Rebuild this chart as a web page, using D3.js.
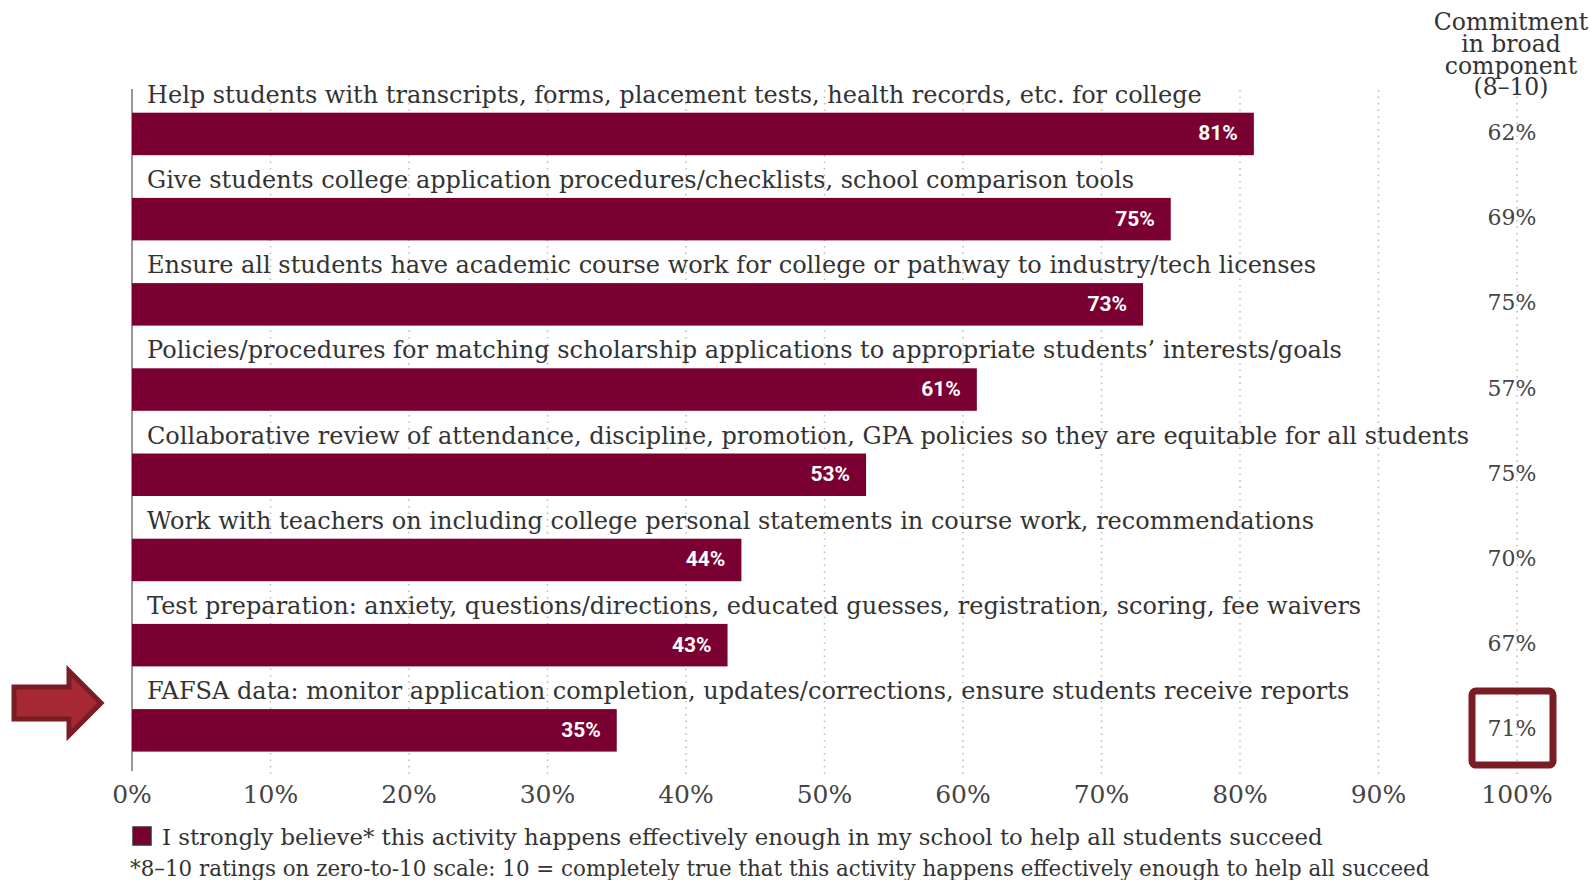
<!DOCTYPE html>
<html lang="en">
	<head>
		<meta charset="utf-8">
		<title>College readiness activities</title>
		<script src="https://d3js.org/d3.v7.min.js" charset="utf-8"></script>
		<style type="text/css">
			body { margin: 0; background: #fff; }
			svg { display: block; }
			.slab { font-family: "DejaVu Serif", "Liberation Serif", serif; fill: #333; }
			.inbar { font-family: "Liberation Sans Narrow", "Roboto", sans-serif; font-weight: bold; fill: #fff; }
		</style>
	</head>
	<body>
		<div id="main"></div>

		<script type="text/javascript">

			var categories = [
				"Help students with transcripts, forms, placement tests, health records, etc. for college",
				"Give students college application procedures/checklists, school comparison tools",
				"Ensure all students have academic course work for college or pathway to industry/tech licenses",
				"Policies/procedures for matching scholarship applications to appropriate students\u2019 interests/goals",
				"Collaborative review of attendance, discipline, promotion, GPA policies so they are equitable for all students",
				"Work with teachers on including college personal statements in course work, recommendations",
				"Test preparation: anxiety, questions/directions, educated guesses, registration, scoring, fee waivers",
				"FAFSA data: monitor application completion, updates/corrections, ensure students receive reports"
			];
			var believe = [81, 75, 73, 61, 53, 44, 43, 35];
			var commitment = [62, 69, 75, 57, 75, 70, 67, 71];
			var ticks = [0, 10, 20, 30, 40, 50, 60, 70, 80, 90, 100];
			var headerLines = ["Commitment", "in broad", "component", "(8\u201310)"];
			var legendText = "I strongly believe* this activity happens effectively enough in my school to help all students succeed";
			var footnote = "*8\u201310 ratings on zero-to-10 scale: 10 = completely true that this activity happens effectively enough to help all succeed";
			var highlighted = 7;

			var w = 1590, h = 880;
			var maroon = "#7a0032", darkRed = "#7a1c24";

			var svg = d3.select("#main").append("svg")
				.attr("width", w)
				.attr("height", h);

			var x = d3.scaleLinear().domain([0, 100]).range([132, 1517]);
			var y = d3.scaleBand().domain(d3.range(categories.length)).range([70, 751.6]);
			var barH = 42.5;
			function barTop(i) { return y(i) + y.bandwidth() - barH; }

			// dotted gridlines
			svg.append("g").selectAll("line")
				.data(ticks.slice(1))
				.enter().append("line")
				.attr("x1", function(d) { return x(d); })
				.attr("x2", function(d) { return x(d); })
				.attr("y1", 90)
				.attr("y2", 775)
				.attr("stroke", "#bbb")
				.attr("stroke-width", 1.5)
				.attr("stroke-dasharray", "1.5,5");

			// left axis line
			svg.append("line")
				.attr("x1", x(0)).attr("x2", x(0))
				.attr("y1", 89).attr("y2", 771)
				.attr("stroke", "#999")
				.attr("stroke-width", 2);

			// category labels
			svg.append("g").selectAll("text")
				.data(categories)
				.enter().append("text")
				.attr("class", "slab")
				.attr("x", 147)
				.attr("y", function(d, i) { return barTop(i) - 10; })
				.attr("font-size", 24)
				.text(function(d) { return d; });

			// bars
			svg.append("g").selectAll("rect")
				.data(believe)
				.enter().append("rect")
				.attr("x", x(0))
				.attr("y", function(d, i) { return barTop(i); })
				.attr("width", function(d) { return x(d) - x(0); })
				.attr("height", barH)
				.attr("fill", maroon);

			// in-bar value labels
			svg.append("g").selectAll("text")
				.data(believe)
				.enter().append("text")
				.attr("class", "inbar")
				.attr("x", function(d) { return x(d) - 16; })
				.attr("y", function(d, i) { return barTop(i) + barH / 2 + 1; })
				.attr("text-anchor", "end")
				.attr("dominant-baseline", "middle")
				.attr("font-size", 21)
				.text(function(d) { return d + "%"; });

			// right column header
			svg.append("text")
				.attr("class", "slab")
				.attr("text-anchor", "middle")
				.attr("font-size", 23.5)
				.selectAll("tspan")
				.data(headerLines)
				.enter().append("tspan")
				.attr("x", 1511)
				.attr("y", function(d, i) { return 30 + i * 21.8; })
				.text(function(d) { return d; });

			// commitment values
			svg.append("g").selectAll("text")
				.data(commitment)
				.enter().append("text")
				.attr("class", "slab")
				.attr("x", 1512)
				.attr("y", function(d, i) { return barTop(i) + barH / 2; })
				.attr("text-anchor", "middle")
				.attr("dominant-baseline", "middle")
				.attr("font-size", 22)
				.style("fill", "#444")
				.text(function(d) { return d + "%"; });

			// highlight box
			svg.append("rect")
				.attr("x", 1472)
				.attr("y", barTop(highlighted) - 18)
				.attr("width", 81)
				.attr("height", 74)
				.attr("rx", 4)
				.attr("fill", "none")
				.attr("stroke", darkRed)
				.attr("stroke-width", 7);

			// arrow
			var ay = barTop(highlighted) - 6;
			svg.append("path")
				.attr("d", "M14," + (ay - 16) + "H69V" + (ay - 32) + "L101," + ay +
					"L69," + (ay + 32) + "V" + (ay + 16) + "H14Z")
				.attr("fill", "#a52832")
				.attr("stroke", darkRed)
				.attr("stroke-width", 5)
				.attr("stroke-linejoin", "miter");

			// x axis tick labels
			svg.append("g").selectAll("text")
				.data(ticks)
				.enter().append("text")
				.attr("class", "slab")
				.attr("x", function(d) { return x(d); })
				.attr("y", 803)
				.attr("text-anchor", "middle")
				.attr("font-size", 25)
				.style("fill", "#444")
				.text(function(d) { return d + "%"; });

			// legend
			svg.append("rect")
				.attr("x", 133).attr("y", 827)
				.attr("width", 18).attr("height", 18)
				.attr("fill", maroon)
				.attr("stroke", "#333")
				.attr("stroke-width", 1.5);
			svg.append("text")
				.attr("class", "slab")
				.attr("x", 162)
				.attr("y", 845)
				.attr("font-size", 22.8)
				.text(legendText);

			svg.append("text")
				.attr("class", "slab")
				.attr("x", 130)
				.attr("y", 876)
				.attr("font-size", 21.4)
				.text(footnote);

		</script>
	</body>
</html>
